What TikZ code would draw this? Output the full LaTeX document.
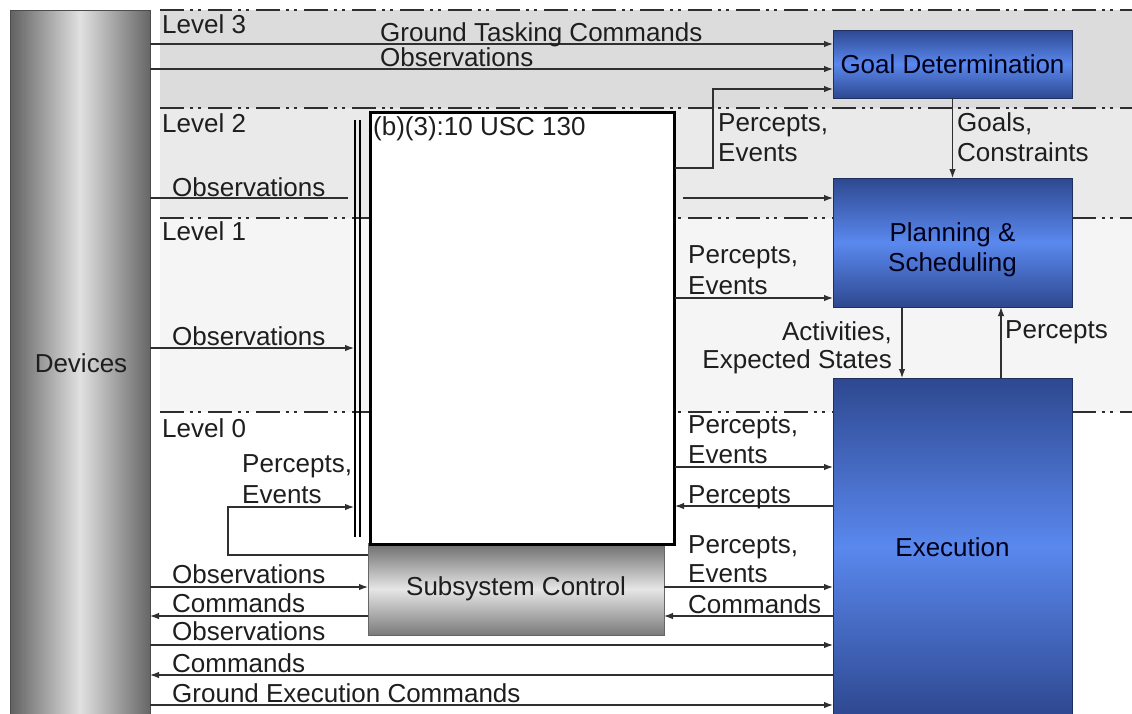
\documentclass[tikz,border=0pt]{standalone}
\usepackage{fontspec}
\setmainfont{Liberation Sans}
\usetikzlibrary{arrows.meta}
\definecolor{ink}{HTML}{1E1E1E}
\definecolor{wire}{HTML}{303030}
\definecolor{bandA}{HTML}{DCDCDC}
\definecolor{bandB}{HTML}{EAEAEA}
\definecolor{bandC}{HTML}{F5F5F5}
\definecolor{navy}{HTML}{2E4890}
\definecolor{sky}{HTML}{5A88EE}
\definecolor{navyline}{HTML}{1F2F5F}
\definecolor{steel}{HTML}{6C6C6C}
\definecolor{silver}{HTML}{E6E6E6}
\begin{document}
\begin{tikzpicture}[x=1pt,y=-1pt,
  font=\fontsize{26}{30}\selectfont,
  arr/.style={draw=wire,line width=1.2pt,-{Latex[length=9pt,width=6.5pt]}},
  wireline/.style={draw=wire,line width=1.2pt},
  levelline/.style={draw=black!82,line width=2.8pt,
    dash pattern=on 24pt off 6pt on 3pt off 5pt on 3pt off 7pt},
  bluebox/.style={draw=navyline,line width=1pt,shading=axis,
    top color=navy,bottom color=navy,middle color=sky,
    anchor=north west,inner sep=0pt,outer sep=0pt,text=black!90!blue,align=center},
  graybox/.style={draw=black!60,line width=1pt,shading=axis,
    top color=steel,bottom color=steel!90,middle color=silver,
    anchor=north west,inner sep=0pt,outer sep=0pt,text=ink},
  txt/.style={anchor=base west,inner sep=0pt,text=ink},
  bus/.style={draw=black,line width=2.4pt}]
\useasboundingbox (0,0) rectangle (1132,713);
\clip (0,0) rectangle (1132,713);
\fill[white] (0,0) rectangle (1132,713);

% level bands
\fill[bandA] (160,10) rectangle (1132,108);
\fill[bandB] (160,108) rectangle (1132,218);
\fill[bandC] (160,218) rectangle (1132,412);

% level separators
\foreach \yy in {10,108,218,412}
  \draw[levelline] (160,\yy) -- (1132,\yy);

% device column
\node[graybox,draw=black!70,shading angle=90,
  left color=black!62,right color=black!60,middle color=black!12,
  minimum width=140pt,minimum height=720pt] (dev) at (10,10) {};
\node[text=ink,inner sep=0pt,anchor=base] at (81,372) {Devices};

% functional blocks
\node[bluebox,minimum width=239pt,minimum height=68pt] (goal) at (833,30) {Goal Determination};
\node[bluebox,minimum width=239pt,minimum height=129pt] (plan) at (833,178)
  {\raisebox{-14pt}[0pt][0pt]{\begin{tabular}{@{}c@{}}Planning \&\\Scheduling\end{tabular}}};
\node[bluebox,minimum width=239pt,minimum height=338pt] (exec) at (833,378) {Execution};
\node[graybox,minimum width=296pt,minimum height=92pt] (subsys) at (368,543) {Subsystem Control};

% bus rails beside the central block
\coordinate (busl) at (354,0);
\coordinate (busr) at (675,0);
\draw[bus] (355,120) -- (355,537);
\draw[bus] (360,120) -- (360,537);
\draw[wireline,draw=black!70] (675,115) -- (675,535);

% central block
\node[draw=black,line width=3pt,fill=white,anchor=north west,inner sep=0pt,
  minimum width=304pt,minimum height=432pt] (mid) at (369,111) {};
\node[txt] at (373,135) {(b)(3):10 USC 130};

% level 3
\draw[arr] (dev.east |- 0,44) -- (goal.west |- 0,44);
\draw[arr] (dev.east |- 0,69) -- (goal.west |- 0,69);
\draw[arr] (busr |- 0,168) -| (713,89) -- (goal.west |- 0,89);
\draw[arr] (goal.south) -- (plan.north);

% level 2
\coordinate (obsA) at (348,198);
\coordinate (obsB) at (683,198);
\draw[wireline] (dev.east |- obsA) -- (obsA);
\draw[arr] (obsB) -- (plan.west |- obsB);

% level 1
\draw[arr] (busr |- 0,298) -- (plan.west |- 0,298);
\draw[arr] (plan.south -| 902,0) -- (exec.north -| 902,0);
\draw[arr] (exec.north -| 1001,0) -- (plan.south -| 1001,0);
\draw[arr] (dev.east |- 0,348) -- (busl |- 0,348);

% level 0
\draw[arr] (subsys.west |- 0,555) -| (228,507) -- (busl |- 0,507);
\draw[arr] (dev.east |- 0,587) -- (subsys.west |- 0,587);
\draw[arr] (subsys.west |- 0,616) -- (dev.east |- 0,616);
\draw[arr] (dev.east |- 0,645) -- (exec.west |- 0,645);
\draw[arr] (exec.west |- 0,675) -- (dev.east |- 0,675);
\draw[arr] (dev.east |- 0,705) -- (exec.west |- 0,705);
\draw[arr] (busr |- 0,467) -- (exec.west |- 0,467);
\draw[arr] (exec.west |- 0,506) -- (busr |- 0,506);
\draw[arr] (subsys.east |- 0,587) -- (exec.west |- 0,587);
\draw[arr] (exec.west |- 0,616) -- (subsys.east |- 0,616);

% labels
\node[txt] at (162,33) {Level 3};
\node[txt] at (162,132) {Level 2};
\node[txt] at (162,240) {Level 1};
\node[txt] at (162,437) {Level 0};

\node[txt] at (380,41) {Ground Tasking Commands};
\node[txt] at (380,66) {Observations};
\node[txt] at (718,131) {Percepts,};
\node[txt] at (718,161) {Events};
\node[txt] at (957,131) {Goals,};
\node[txt] at (957,161) {Constraints};
\node[txt] at (172,196) {Observations};
\node[txt] at (688,263) {Percepts,};
\node[txt] at (688,294) {Events};
\node[txt,anchor=base east] at (892,340) {Activities,};
\node[txt,anchor=base east] at (892,368) {Expected States};
\node[txt] at (1005,338) {Percepts};
\node[txt] at (172,345) {Observations};

\node[txt] at (242,472) {Percepts,};
\node[txt] at (242,503) {Events};
\node[txt] at (172,583) {Observations};
\node[txt] at (172,612) {Commands};
\node[txt] at (172,640) {Observations};
\node[txt] at (172,672) {Commands};
\node[txt] at (172,702) {Ground Execution Commands};

\node[txt] at (688,433) {Percepts,};
\node[txt] at (688,463) {Events};
\node[txt] at (688,503) {Percepts};
\node[txt] at (688,553) {Percepts,};
\node[txt] at (688,582) {Events};
\node[txt] at (688,613) {Commands};
\end{tikzpicture}
\end{document}
